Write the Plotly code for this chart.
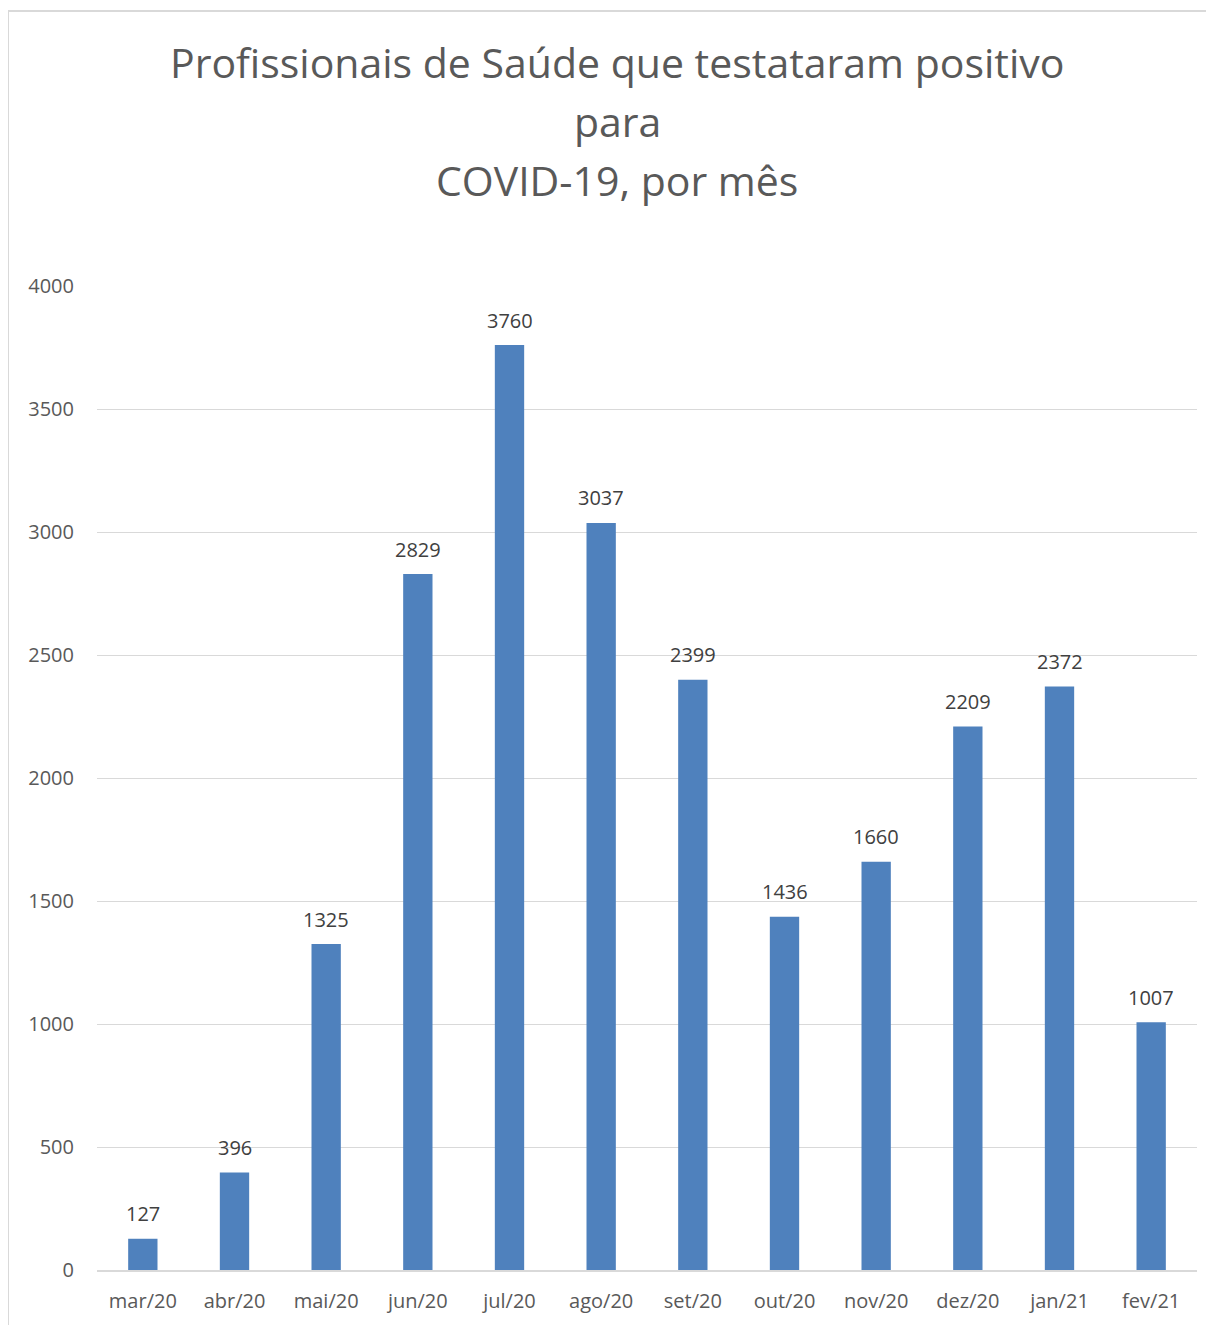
import plotly.graph_objects as go

months = ["mar/20", "abr/20", "mai/20", "jun/20", "jul/20", "ago/20", "set/20",
          "out/20", "nov/20", "dez/20", "jan/21", "fev/21"]
values = [127, 396, 1325, 2829, 3760, 3037, 2399, 1436, 1660, 2209, 2372, 1007]
y_ticks = [0, 500, 1000, 1500, 2000, 2500, 3000, 3500, 4000]
title_lines = ["Profissionais de Saúde que testataram positivo", "para", "COVID-19, por mês"]

FONT = "Open Sans"
W, H = 1206, 1317
ML, MR, MT, MB = 89, 17, 278, 55
PW = W - ML - MR
PH = H - MT - MB

fig = go.Figure(go.Bar(
    x=months, y=values,
    marker=dict(color="#4F81BD", line=dict(width=0)),
    width=0.32,
    hoverinfo="x+y",
))

annotations = []
for m, v in zip(months, values):
    annotations.append(dict(
        x=m, y=v, xref="x", yref="y", text=str(v), showarrow=False,
        yanchor="middle", xanchor="center", yshift=25,
        font=dict(family=FONT, size=20, color="#404040"),
    ))

# title lines (screen centres at y = 62, 121, 180 -> figure coords minus 8 px body margin)
title_centres = [54, 113, 172]
for line, yc in zip(title_lines, title_centres):
    annotations.append(dict(
        text=line, xref="paper", yref="paper",
        x=(617 - 97) / PW, y=1 + (MT - yc) / PH, xanchor="center", yanchor="middle",
        showarrow=False, font=dict(family=FONT, size=41, color="#595959"),
    ))

fig.update_layout(
    width=W, height=H,
    margin=dict(l=ML, r=MR, t=MT, b=MB),
    paper_bgcolor="white", plot_bgcolor="white",
    showlegend=False,
    xaxis=dict(
        showgrid=False, showline=True, linecolor="#D9D9D9", linewidth=1.5,
        ticks="", tickfont=dict(family=FONT, size=20, color="#595959"),
        ticklabelstandoff=12,
    ),
    yaxis=dict(
        range=[0, 4000], tickvals=y_ticks, showgrid=True, gridcolor="#D9D9D9",
        gridwidth=1.3, zeroline=False, showline=False, ticks="",
        tickfont=dict(family=FONT, size=20, color="#595959"), ticklabelstandoff=22,
    ),
    font=dict(family=FONT),
    annotations=annotations,
    shapes=[
        dict(type="line", xref="paper", yref="paper",
             x0=-ML / PW, x1=1.1, y0=1 + (MT - 3) / PH, y1=1 + (MT - 3) / PH,
             line=dict(color="#D9D9D9", width=2)),
        dict(type="line", xref="paper", yref="paper",
             x0=-ML / PW, x1=-ML / PW, y0=1 + (MT - 3) / PH, y1=-0.1,
             line=dict(color="#D9D9D9", width=2)),
    ],
)

fig.write_html("out.html")
